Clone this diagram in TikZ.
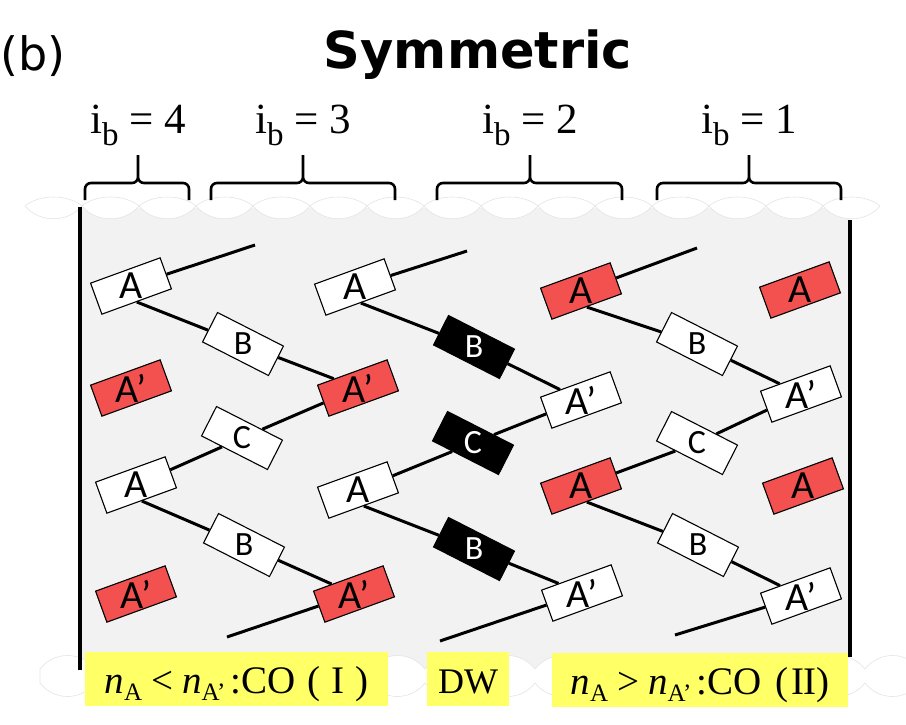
\documentclass[tikz,border=0pt]{standalone}
\usepackage{fontspec}
\setmainfont{Liberation Serif}
\newfontfamily\calibri{Carlito}
\newfontfamily\verdana{DejaVu Sans}

\definecolor{panelgray}{RGB}{242,242,242}
\definecolor{rimgray}{RGB}{228,228,228}
\definecolor{spinred}{RGB}{243,80,80}
\definecolor{noteyellow}{RGB}{255,255,102}

% band index and density labels
\newcommand{\ibnum}[1]{i\raisebox{-12pt}{\fontsize{33}{33}\selectfont b} = #1}
\newcommand{\nsub}[1]{\textit{n}\raisebox{-7pt}{\fontsize{25}{25}\selectfont #1}}

\tikzset{
  mono/.style={draw, line width=1.1pt, minimum width=74pt, minimum height=33pt, inner sep=0pt},
  wA/.style={mono, fill=white, rotate=20},
  rA/.style={mono, fill=spinred, rotate=20},
  wB/.style={mono, fill=white, rotate=-27},
  kB/.style={mono, fill=black, rotate=-27},
  tA/.style={font=\calibri\fontsize{40}{40}\selectfont, inner sep=0pt},
  tB/.style={font=\calibri\fontsize{34}{34}\selectfont, inner sep=0pt},
  tK/.style={tB, text=white},
  wire/.style={line width=3pt},
  curly/.style={line width=2.6pt, rounded corners=6pt},
  rim/.style={fill=white, draw=rimgray, line width=0.6pt},
  note/.style={fill=noteyellow, inner sep=0pt, minimum height=54pt,
    text height=36pt, text depth=8pt, font=\fontsize{39}{39}\selectfont},
}

\begin{document}
\begin{tikzpicture}[x=1pt, y=-1pt]
\useasboundingbox (0,0) rectangle (906,724);

% grey cell with torn top and bottom edges
\fill[panelgray] (80,208) rectangle (850,672);
\filldraw[rim] (25,206) foreach \k in {1,...,15} { .. controls +(14,-12) and +(-14,-12) .. ({25+57*\k},206) }
  foreach \k in {1,...,15} { .. controls +(-14,17) and +(14,17) .. ({880-57*\k},206) } -- cycle;
\filldraw[rim] (40,669) foreach \k in {1,...,16} { .. controls +(14,-18) and +(-14,-18) .. ({40+55*\k},669) } -- (920,683)
  foreach \k in {1,...,16} { .. controls +(-14,18) and +(14,18) .. ({920-55*\k},683) } -- cycle;
\draw[line width=3.2pt] (80,207) -- (80,670) (850,220) -- (850,657);

% heading
\node[font=\verdana\fontsize{46}{46}\selectfont, anchor=base west, inner sep=0pt] (panel) at (0,70) {(b)};
\node[font=\verdana\bfseries\fontsize{51}{51}\selectfont, anchor=base, inner sep=0pt] (title) at (478,68) {Symmetric};

% bands
\foreach \l/\m/\r/\i in {85/138/189/4, 211/303/395/3, 437/530/622/2, 657/749/841/1} {
  \draw[curly] (\l,200) |- (\m,183) -- (\m,155) (\r,200) |- (\m,183) -- (\m,155);
  \node[font=\fontsize{43}{43}\selectfont, anchor=base, inner sep=0pt] (ib\i) at (\m,133) {\ibnum{\i}};
}

% monomers
\foreach \n/\x/\y/\s/\t/\k in {
  A1/131/286/wA/A/tA, B1/243/344/wB/B/tB, P1/358/388/rA/A’/tA, C1/242/438/wB/C/tB,
  A2/136/485/wA/A/tA, B2/244/545/wB/B/tB, P2/354/594/rA/A’/tA,
  A3/355/287/wA/A/tA, B3/474/347/kB/B/tK, P3/581/400/wA/A’/tA, C3/473/443/kB/C/tK,
  A4/358/490/wA/A/tA, B4/474/549/kB/B/tK, P4/582/593/wA/A’/tA,
  A5/581/291/rA/A/tA, B5/697/344/wB/B/tB, P5/801/394/wA/A’/tA, C5/697/443/wB/C/tB,
  A6/581/486/rA/A/tA, B6/698/545/wB/B/tB, P6/801/596/wA/A’/tA,
  F1/131/388/rA/A’/tA, F2/136/594/rA/A’/tA, F3/800/290/rA/A/tA, F4/803/486/rA/A/tA}
{
  \node[\s] (\n) at (\x,\y) {};
  \node[\k] (\n-txt) at (\n) {\t};
}

% chain ends
\coordinate (e1) at (255,245);
\coordinate (e2) at (227,637);
\coordinate (e3) at (467,251);
\coordinate (e4) at (440,641);
\coordinate (e5) at (697,248);
\coordinate (e6) at (675,635);

\foreach \u/\v in {1/2, 3/4, 5/6}
  \draw[wire] (e\u) -- (A\u) (A\u.south) -- (B\u) -- (P\u) -- (C\u) -- (A\v) (A\v.south) -- (B\v) -- (P\v) -- (e\v);

% phases
\node[note, minimum width=303pt] (co1) at (236.5,679) {\nsub{A}\hspace{9pt}<\hspace{9pt}\nsub{A’}\hspace{5pt}:CO\hspace{12pt}(\hspace{11pt}I\hspace{11pt})};
\node[note, minimum width=82pt, font=\fontsize{36}{36}\selectfont] (dw) at (468,679) {DW};
\node[note, minimum width=296pt] (co2) at (700,680) {\nsub{A}\hspace{9pt}>\hspace{9pt}\nsub{A’}\hspace{5pt}:CO\hspace{14pt}(\hspace{3pt}I\kern-1pt I)};
\end{tikzpicture}
\end{document}
